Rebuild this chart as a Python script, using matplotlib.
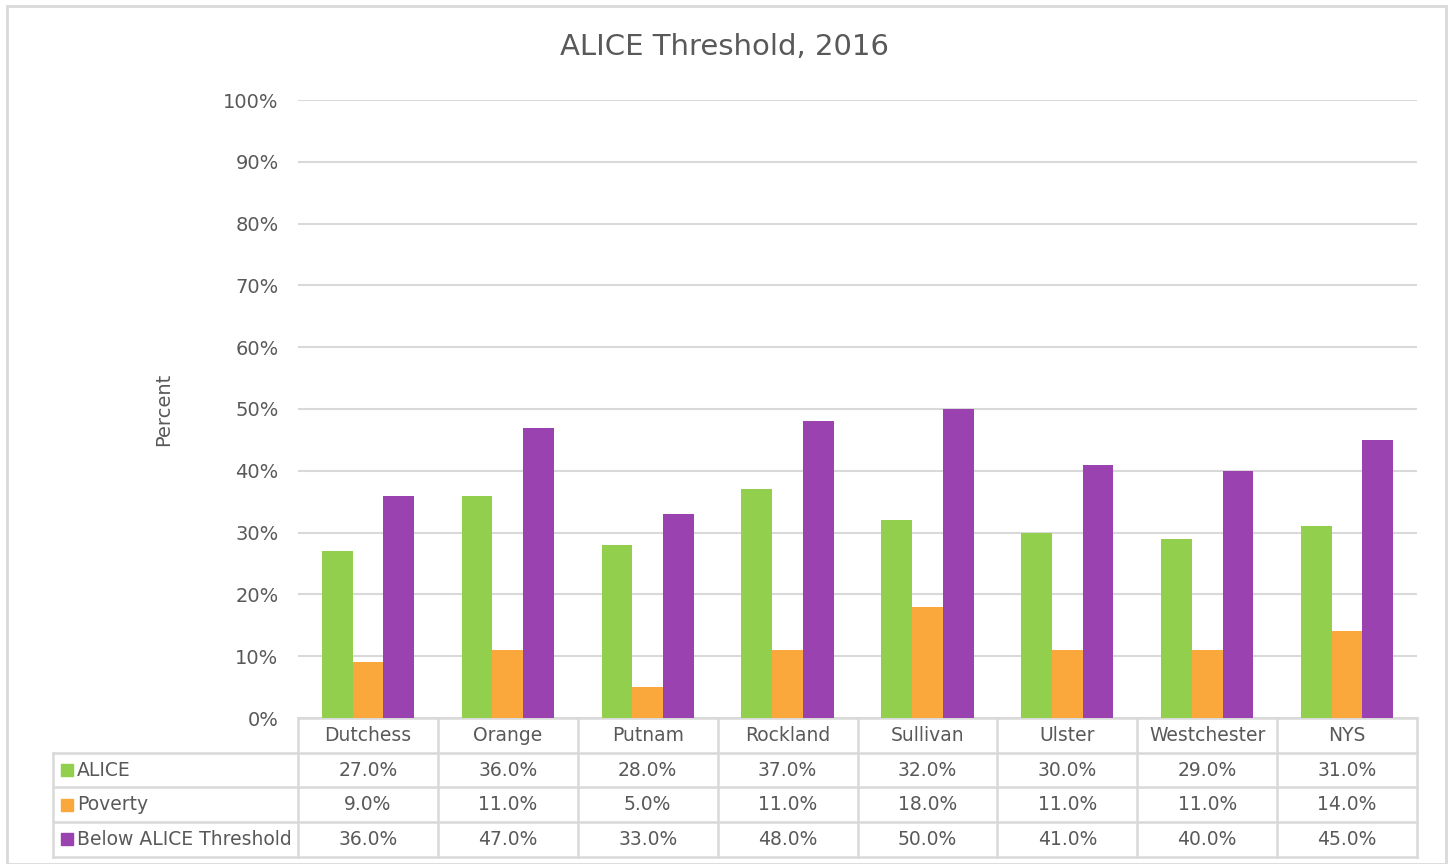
import matplotlib
matplotlib.use('Agg')
import matplotlib.pyplot as plt
import matplotlib.transforms as mtransforms
from matplotlib.patches import Rectangle
import numpy as np

plt.rcParams['font.family'] = ['DejaVu Sans']

# data
counties = ['Dutchess', 'Orange', 'Putnam', 'Rockland', 'Sullivan', 'Ulster', 'Westchester', 'NYS']
alice = [27, 36, 28, 37, 32, 30, 29, 31]
poverty = [9, 11, 5, 11, 18, 11, 11, 14]
below_alice = [36, 47, 33, 48, 50, 41, 40, 45]
series_names = ['ALICE', 'Poverty', 'Below ALICE Threshold']
colors = ['#92CF4C', '#FAA73C', '#9A43B0']

text_col = '#595959'
grid_col = '#D9D9D9'

fig = plt.figure(figsize=(14.5, 8.64), dpi=100)
W, H = 1450, 864

# outer chart border
fig.patches.append(Rectangle((7 / W, 0.0), 1439 / W, 1 - 6 / H, transform=fig.transFigure,
                             fill=False, edgecolor=grid_col, linewidth=2))

ax = fig.add_axes([298 / W, 1 - 718 / H, 1119 / W, 618 / H])

x = np.arange(len(counties))
bw = 0.22
all_series = [alice, poverty, below_alice]
for i, (vals, c) in enumerate(zip(all_series, colors)):
    ax.bar(x + (i - 1) * bw, vals, width=bw, color=c, zorder=3)

ax.set_xlim(-0.5, len(counties) - 0.5)
ax.set_ylim(0, 100)
ax.set_yticks(np.arange(0, 101, 10))
ax.set_yticklabels([f'{v}%' for v in range(0, 101, 10)], fontsize=14, color=text_col)
ax.set_xticks([])
ax.yaxis.grid(True, color=grid_col, linewidth=1.5, zorder=0)
ax.tick_params(axis='y', length=0, pad=14)
for s in ax.spines.values():
    s.set_visible(False)

ax.set_ylabel('Percent', fontsize=14, color=text_col, labelpad=36)
fig.text(0.5, 1 - 47 / H, 'ALICE Threshold, 2016', ha='center', va='center',
         fontsize=21, color=text_col)

# data table under the axis
trans = mtransforms.blended_transform_factory(ax.transData, ax.transAxes)
row_h = 34.7 / 618
left_x = -0.5 - 245 / 140
right_x = len(counties) - 0.5
line_kw = dict(color=grid_col, linewidth=1.8, transform=trans, clip_on=False)

# horizontal lines
ax.plot([-0.5, right_x], [0, 0], **line_kw)
for r in range(1, 5):
    ax.plot([left_x, right_x], [-r * row_h, -r * row_h], **line_kw)
# vertical lines
for k in range(len(counties) + 1):
    ax.plot([k - 0.5, k - 0.5], [0, -4 * row_h], **line_kw)
ax.plot([left_x, left_x], [-row_h, -4 * row_h], **line_kw)

# header
for k, name in enumerate(counties):
    ax.text(k, -0.5 * row_h, name, ha='center', va='center', fontsize=13.5,
            color=text_col, transform=trans)

# rows
for r, (name, vals, c) in enumerate(zip(series_names, all_series, colors)):
    yc = -(r + 1.5) * row_h
    ax.plot([left_x + 0.1], [yc], marker='s', markersize=9, color=c,
            transform=trans, clip_on=False, linestyle='none')
    ax.text(left_x + 0.17, yc, name, ha='left', va='center', fontsize=13.5,
            color=text_col, transform=trans)
    for k, v in enumerate(vals):
        ax.text(k, yc, f'{v:.1f}%', ha='center', va='center', fontsize=13.5,
                color=text_col, transform=trans)

fig.savefig('out.png', dpi=100)
